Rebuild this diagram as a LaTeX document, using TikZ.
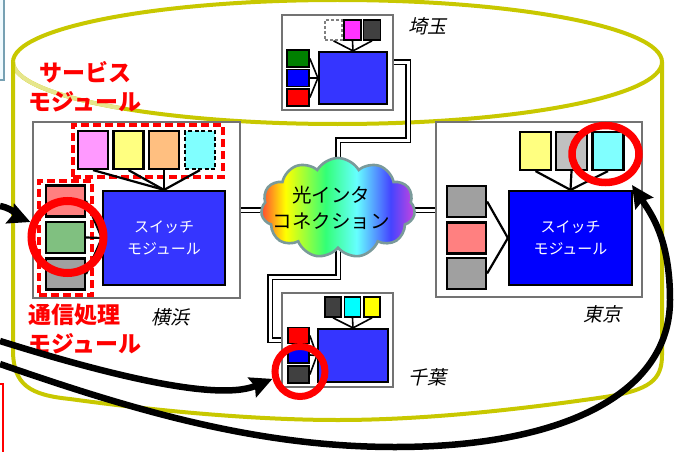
\documentclass[tikz,border=0pt]{standalone}
\usepackage{fontspec}
\newfontfamily\jp{Noto Sans CJK JP}
\newfontfamily\jpit[FakeSlant=0.22]{Noto Sans CJK JP}
\usetikzlibrary{shapes.geometric,shapes.symbols,arrows.meta}
\definecolor{cyl}{HTML}{C8C800}
\definecolor{swA}{HTML}{3535FF}
\definecolor{swB}{HTML}{0000FF}
\definecolor{cPink}{HTML}{FF99FF}
\definecolor{cLY}{HTML}{FFFF80}
\definecolor{cOr}{HTML}{FFBF80}
\definecolor{cLC}{HTML}{80FFFF}
\definecolor{cSal}{HTML}{FF8080}
\definecolor{cGr}{HTML}{80C080}
\definecolor{cGy}{HTML}{A0A0A0}
\definecolor{cSil}{HTML}{C0C0C0}
\definecolor{cDk}{HTML}{404040}
\definecolor{cGreen}{HTML}{008000}
\definecolor{cBlue}{HTML}{0000FF}
\definecolor{cRed}{HTML}{FF0000}
\definecolor{cMag}{HTML}{FF33FF}
\definecolor{cCy}{HTML}{00FFFF}
\definecolor{cYe}{HTML}{FFFF00}
\definecolor{cloudB}{HTML}{7A9A9A}
\definecolor{rbA}{HTML}{FF4433}
\definecolor{rbB}{HTML}{FFFF00}
\definecolor{rbC}{HTML}{33FF77}
\definecolor{rbD}{HTML}{66FFFF}
\definecolor{rbE}{HTML}{4444FF}
\definecolor{rbF}{HTML}{CC44DD}
\pgfdeclarehorizontalshading{rainbow}{100bp}{color(0bp)=(rbA); color(25bp)=(rbA); color(33bp)=(rbB); color(46bp)=(rbC); color(56bp)=(rbD); color(67bp)=(rbE); color(75bp)=(rbF); color(100bp)=(rbF)}
\begin{document}
\begin{tikzpicture}[x=1pt,y=-1pt,
  cylline/.style={draw=cyl, line width=4pt},
  site/.style={draw=black!55, fill=white, line width=1.3pt, inner sep=0},
  sb/.style={draw=black, line width=2.2pt, inner sep=0},
  ssb/.style={draw=black, line width=1.7pt, inner sep=0},
  swbox/.style={draw=black, line width=2.2pt, inner sep=0, text=white, align=center, font=\jp\fontsize{15}{21.5}\selectfont},
  grp/.style={draw=red, line width=3.4pt, dash pattern=on 8pt off 4pt, inner sep=0},
  lnk/.style={draw=black, line width=1.5pt, double=white, double distance=3pt},
  wire/.style={draw=black, line width=2.2pt},
  swire/.style={draw=black, line width=1.6pt},
  ring/.style={draw=red, line width=8pt, circle, inner sep=0},
  bigarr/.style={draw=black, line width=6.5pt, -{Stealth[length=22pt,width=21pt,inset=3pt]}},
  redlbl/.style={text=red, inner sep=0, font=\jp\bfseries\fontsize{23}{29.5}\selectfont},
  place/.style={inner sep=0, font=\jpit\fontsize{19}{22}\selectfont}]
\useasboundingbox (0,0) rectangle (680,452);
\clip (0,0) rectangle (680,452);

% fragments at the left edge
\draw[draw=cyan!35!gray, fill=cyan!6, line width=1.2pt] (-5,-5) rectangle (4,80);
\draw[red, line width=1.4pt] (-5,384) rectangle (3,460);

% cylinder
\draw[cylline] (337.5,62) ellipse[x radius=324.5, y radius=62];
\draw[cylline, draw=cyl!45!white] (13,62) arc[start angle=180, end angle=132, x radius=324.5, y radius=62];
\draw[cylline] (13,62) -- (13,350) .. controls (13,385) and (30,395) .. (70,399)
  .. controls (150,410) and (250,420) .. (338,420)
  .. controls (430,420) and (530,408) .. (605,397)
  .. controls (650,390) and (662,380) .. (662,355) -- (662,62);

% coordinates for links
\coordinate (sa1) at (408,62.5);
\coordinate (sa2) at (408,140);
\coordinate (ch1) at (270,277);
\coordinate (ch2) at (270,340);
\coordinate (cc) at (338,208);

% links (drawn first, covered by boxes and cloud)
\draw[lnk] (136.5,210) -- (cc |- 0,210);
\draw[lnk] (cc |- 0,210) -- (539,210);
\draw[lnk] (337.5,62.5) -- (sa1) -- (sa2) -- (sa2 -| cc) -- (cc);
\draw[lnk] (cc) -- (cc |- ch1) -- (ch1) -- (ch2) -- (337.5,340);

% ---------- Yokohama ----------
\node[site, minimum width=207, minimum height=176] (yoko) at (136.5,210) {};
\node[grp, minimum width=150, minimum height=52] (ysvc) at (148,151) {};
\node[grp, minimum width=53, minimum height=114] (ycom) at (65.5,238) {};
\node[swbox, fill=swA, minimum width=122, minimum height=94] (ysw) at (164,238) {スイッチ\\モジュール};
\node[sb, fill=cPink, minimum width=30, minimum height=38] (ys1) at (93,150) {};
\node[sb, fill=cLY, minimum width=30, minimum height=38] (ys2) at (128.5,150) {};
\node[sb, fill=cOr, minimum width=30, minimum height=38] (ys3) at (164,150) {};
\node[sb, fill=cLC, dash pattern=on 4pt off 2.5pt, minimum width=30, minimum height=38] (ys4) at (200,150) {};
\node[sb, fill=cSal, minimum width=39, minimum height=31] (yc1) at (65.5,201) {};
\node[sb, fill=cGr, minimum width=39, minimum height=31] (yc2) at (65.5,237.5) {};
\node[sb, fill=cGy, minimum width=39, minimum height=31] (yc3) at (65.5,274) {};
\foreach \s in {ys1,ys2,ys3,ys4} \draw[wire] (\s.south) -- (ysw.north);
\foreach \s in {yc1,yc2,yc3} \draw[wire] (\s.east) -- (ysw.west);

% ---------- Saitama ----------
\node[site, minimum width=111, minimum height=95] (sai) at (337.5,62.5) {};
\node[swbox, fill=swA, minimum width=68, minimum height=52] (ssw) at (353,78) {};
\node[ssb, fill=cGreen, minimum width=22, minimum height=17] (sl1) at (298,58.5) {};
\node[ssb, fill=cBlue, minimum width=22, minimum height=17] (sl2) at (298,78) {};
\node[ssb, fill=cRed, minimum width=22, minimum height=17] (sl3) at (298,97.5) {};
\node[ssb, draw=black!50, fill=white, dash pattern=on 3pt off 2pt, minimum width=17, minimum height=20] (st1) at (333.5,30) {};
\node[ssb, fill=cMag, minimum width=17, minimum height=20] (st2) at (352.5,30) {};
\node[ssb, fill=cDk, minimum width=17, minimum height=20] (st3) at (372,30) {};
\foreach \s in {st1,st2,st3} \draw[swire] (\s.south) -- (ssw.north);
\foreach \s in {sl1,sl2,sl3} \draw[swire] (\s.east) -- (ssw.west);

% ---------- Chiba ----------
\node[site, minimum width=111, minimum height=94] (chi) at (337.5,340) {};
\node[swbox, fill=swA, minimum width=70, minimum height=53] (csw) at (353,355.5) {};
\node[ssb, fill=cDk, minimum width=16, minimum height=20] (ct1) at (333,307) {};
\node[ssb, fill=cCy, minimum width=16, minimum height=20] (ct2) at (352.5,307) {};
\node[ssb, fill=cYe, minimum width=16, minimum height=20] (ct3) at (372,307) {};
\node[ssb, fill=cRed, minimum width=21, minimum height=16] (cl1) at (298.5,335.5) {};
\node[ssb, fill=cBlue, minimum width=21, minimum height=16] (cl2) at (298.5,355) {};
\node[ssb, fill=cDk, minimum width=21, minimum height=17] (cl3) at (298.5,374.5) {};
\foreach \s in {ct1,ct2,ct3} \draw[swire] (\s.south) -- (csw.north);
\foreach \s in {cl1,cl2,cl3} \draw[swire] (\s.east) -- (csw.west);

% ---------- Tokyo ----------
\node[site, minimum width=206, minimum height=175] (tok) at (539,209.5) {};
\node[swbox, fill=swB, minimum width=123, minimum height=94] (tsw) at (570.5,238) {スイッチ\\モジュール};
\node[sb, fill=cLY, minimum width=31, minimum height=38] (tt1) at (535.5,151) {};
\node[sb, fill=cSil, minimum width=31, minimum height=38] (tt2) at (571.5,151) {};
\node[sb, fill=cLC, minimum width=31, minimum height=38] (tt3) at (608,151) {};
\node[sb, fill=cGy, minimum width=39, minimum height=31] (tl1) at (466.5,201.5) {};
\node[sb, fill=cSal, minimum width=39, minimum height=31] (tl2) at (466.5,238) {};
\node[sb, fill=cGy, minimum width=39, minimum height=31] (tl3) at (466.5,273.5) {};
\foreach \s in {tt1,tt2,tt3} \draw[wire] (\s.south) -- (tsw.north);
\foreach \s in {tl1,tl3} \draw[wire] (\s.east) -- (tsw.west);

% ---------- cloud ----------
\node[cloud, cloud puffs=11, cloud puff arc=120, cloud ignores aspect, minimum width=154, minimum height=100,
      draw=cloudB, line width=2.6pt, shading=rainbow, inner sep=0] (cloud) at (cc) {};
\node[inner sep=0, align=center, font=\jp\fontsize{19.5}{26}\selectfont] (cloudtxt) at (331,208) {光インタ\\コネクション};

% ---------- labels ----------
\node[redlbl, align=center] (svclbl) at (85,86.5) {サービス\\モジュール};
\node[redlbl, align=left, anchor=west] (comlbl) at (28,329) {通信処理\\モジュール};
\node[place] (lyoko) at (170,317) {横浜};
\node[place] (lsai) at (427,26) {埼玉};
\node[place] (ltok) at (602,314) {東京};
\node[place] (lchi) at (427,377) {千葉};

% ---------- red rings ----------
\node[ring, minimum size=72] (ringY) at (67.5,237) {};
\node[ring, line width=7pt, minimum size=50] (ringC) at (300,371.5) {};
\node[draw=red, line width=7.5pt, ellipse, minimum width=67, minimum height=57, inner sep=0] (ringT) at (605.5,154) {};

% ---------- arrows ----------
\coordinate (a1s) at (0,206);
\coordinate (a2s) at (0,341);
\coordinate (a3s) at (0,364);
\coordinate (a3b) at (395,447);
\coordinate (a3r) at (670,300);
\coordinate (a3e) at (632,185);
\draw[bigarr] (a1s) .. controls +(15,3) and +(-12,-5) .. (ringY.158);
\draw[bigarr] (a2s) .. controls +(80,25) and +(-60,25) .. (ringC.195);
\draw[bigarr] (a3s) .. controls +(130,45) and +(-140,0) .. (a3b)
   .. controls +(165,0) and +(0,95) .. (a3r)
   .. controls +(0,-60) and +(20,30) .. (a3e);
\end{tikzpicture}
\end{document}
